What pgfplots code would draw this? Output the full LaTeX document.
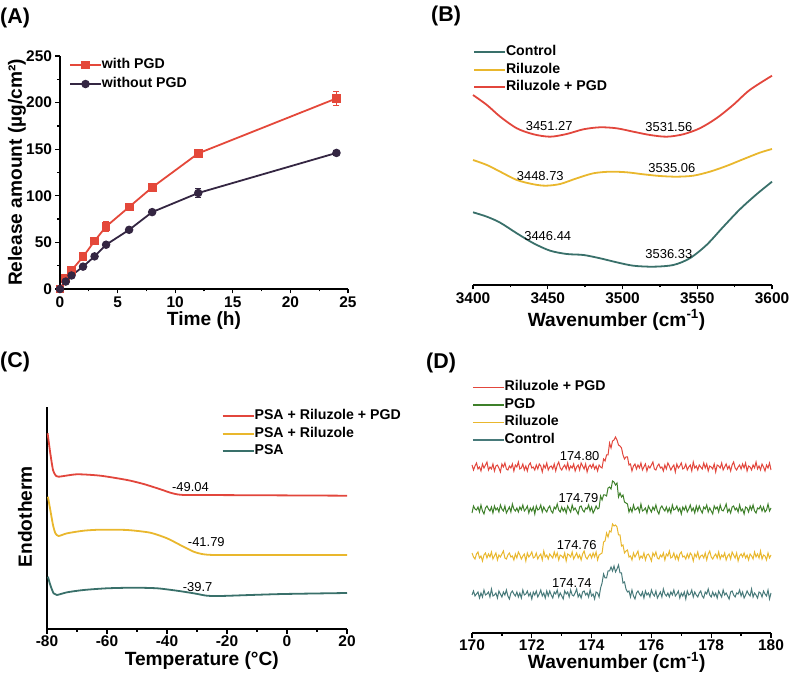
\documentclass[border=0pt]{standalone}
\usepackage{fontspec}
\setmainfont{Liberation Sans}
\usepackage{pgfplots}
\usepackage{pgfplotstable}
\pgfplotsset{compat=1.18}
\definecolor{redA}{RGB}{228,72,58}
\definecolor{darkA}{RGB}{52,38,66}
\definecolor{tealB}{RGB}{57,112,106}
\definecolor{yelB}{RGB}{233,183,45}
\definecolor{redB}{RGB}{226,70,60}
\definecolor{greenD}{RGB}{62,128,42}
\definecolor{tealD}{RGB}{72,122,122}

\pgfplotstableread{
x r g y c
170.00 210 162 122 80
170.05 205 169 118 84
170.10 209 166 116 79
170.15 212 165 121 81
170.20 206 168 123 83
170.25 208 163 117 77
170.30 204 170 119 82
170.35 211 164 114 78
170.40 207 161 120 85
170.45 210 167 122 80
170.50 213 169 117 81
170.55 205 166 121 83
170.60 208 164 118 78
170.65 206 168 123 86
170.70 211 162 116 79
170.75 204 169 119 80
170.80 209 165 122 82
170.85 210 167 115 77
170.90 207 163 120 84
170.95 203 170 118 81
171.00 211 166 121 78
171.05 208 164 124 83
171.10 212 169 117 80
171.15 206 162 116 85
171.20 205 165 120 79
171.25 209 168 122 76
171.30 207 163 118 82
171.35 211 171 119 84
171.40 204 166 115 81
171.45 210 164 121 79
171.50 208 167 117 83
171.55 213 163 123 78
171.60 206 168 120 82
171.65 207 165 116 77
171.70 211 170 119 85
171.75 205 164 121 80
171.80 209 166 114 81
171.85 204 169 122 84
171.90 210 162 118 79
171.95 212 167 120 82
172.00 207 164 123 76
172.05 208 168 117 83
172.10 205 161 118 80
172.15 210 169 122 84
172.20 206 165 116 78
172.25 211 166 119 81
172.30 209 170 121 85
172.35 203 163 115 79
172.40 210 168 124 82
172.45 207 165 118 77
172.50 212 163 120 84
172.55 205 167 116 79
172.60 208 169 121 84
172.65 209 164 119 80
172.70 206 162 117 77
172.75 211 168 123 83
172.80 204 166 118 81
172.85 210 171 122 85
172.90 213 165 115 78
172.95 207 163 120 82
173.00 205 168 119 79
173.05 208 164 117 76
173.10 210 167 122 84
173.15 206 162 114 81
173.20 212 169 121 83
173.25 205 166 120 78
173.30 209 163 118 85
173.35 207 170 123 80
173.40 211 165 116 79
173.45 204 167 119 82
173.50 208 164 122 86
173.55 210 161 117 78
173.60 205 168 120 81
173.65 212 169 115 77
173.70 209 165 121 83
173.75 206 163 124 84
173.80 211 167 118 80
173.85 203 166 116 82
173.90 208 170 119 78
173.95 210 164 121 85
174.00 207 168 117 79
174.05 211 162 122 81
174.10 206 165 118 76
174.15 209 169 123 83
174.20 204 166 115 82
174.25 210 167 120 78
174.30 208 179 121 87
174.35 207 175 122 92
174.40 216 180 133 101
174.45 214 180 134 97
174.50 220 179 142 97
174.55 220 187 138 104
174.60 232 188 144 104
174.65 227 186 143 108
174.70 234 194 151 104
174.75 235 193 149 109
174.80 238 190 150 103
174.85 235 192 148 106
174.90 230 178 140 110
174.95 229 182 140 102
175.00 227 178 129 102
175.05 220 180 130 92
175.10 216 173 122 93
175.15 218 172 124 86
175.20 218 171 125 83
175.25 210 163 118 84
175.30 211 167 119 78
175.35 204 163 115 85
175.40 209 170 122 79
175.45 211 165 118 76
175.50 206 166 121 82
175.55 210 168 124 84
175.60 207 163 116 81
175.65 212 171 119 79
175.70 205 164 117 83
175.75 208 165 122 77
175.80 211 167 115 84
175.85 204 162 120 80
175.90 209 169 121 82
175.95 207 166 118 78
176.00 210 163 114 85
176.05 213 168 122 81
176.10 206 165 119 79
176.15 205 170 123 84
176.20 209 164 117 77
176.25 211 161 116 80
176.30 207 167 120 83
176.35 208 169 118 78
176.40 204 166 122 86
176.45 210 164 115 81
176.50 206 168 121 79
176.55 212 163 119 82
176.60 209 167 124 78
176.65 205 162 117 83
176.70 208 170 118 80
176.75 210 165 122 85
176.80 203 166 116 79
176.85 211 169 120 81
176.90 207 164 115 84
176.95 209 167 121 77
177.00 212 161 123 82
177.05 206 168 118 79
177.10 207 165 119 83
177.15 211 169 116 76
177.20 205 163 121 84
177.25 208 166 117 80
177.30 210 170 122 81
177.35 204 164 120 85
177.40 213 167 114 78
177.45 207 162 121 83
177.50 209 169 118 80
177.55 205 164 123 78
177.60 210 169 116 82
177.65 208 165 119 84
177.70 206 162 120 79
177.75 212 168 117 77
177.80 207 166 122 83
177.85 211 170 115 81
177.90 204 163 121 86
177.95 209 167 124 80
178.00 208 164 118 78
178.05 206 161 116 83
178.10 211 169 119 79
178.15 203 166 121 82
178.20 210 168 117 77
178.25 209 163 123 84
178.30 207 170 116 81
178.35 212 165 120 78
178.40 205 164 118 85
178.45 208 167 122 80
178.50 211 171 115 82
178.55 206 163 119 79
178.60 209 166 121 76
178.65 204 162 116 83
178.70 210 168 123 84
178.75 213 169 120 80
178.80 207 165 117 78
178.85 205 167 122 82
178.90 208 163 114 81
178.95 210 170 119 85
179.00 206 164 121 79
179.05 211 166 118 83
179.10 207 161 122 77
179.15 212 168 117 80
179.20 204 167 120 84
179.25 209 163 115 81
179.30 208 169 121 79
179.35 205 165 119 86
179.40 210 170 116 78
179.45 207 164 123 82
179.50 213 162 118 80
179.55 206 167 121 77
179.60 209 166 117 83
179.65 205 169 124 82
179.70 211 164 116 78
179.75 208 168 120 84
179.80 204 163 119 81
179.85 210 165 115 79
179.90 207 171 122 85
179.95 212 164 117 76
180.00 205 167 120 82
}\dataD

\tikzset{ann/.style={font=\fontsize{13}{15}\selectfont, inner sep=0pt},
  plab/.style={anchor=west, font=\fontsize{21.5}{25}\selectfont\bfseries, inner sep=0pt}}
\pgfplotsset{
  panel/.style={
    scale only axis, clip=false,
    axis line style={line width=1.6bp,-},
    tick style={line width=1.3bp,black},
    tick align=outside,
    major tick length=4.5bp, minor tick length=2.5bp,
    tick label style={font=\fontsize{15.5}{18}\selectfont\bfseries},
    label style={font=\fontsize{19.2}{22}\selectfont\bfseries},
    /pgf/number format/assume math mode=true,
    /pgf/number format/1000 sep={},
    scaled ticks=false,
    legend cell align=left,
    legend style={draw=none, fill=none, inner sep=0pt, anchor=north west,
      font=\fontsize{14.2}{16}\selectfont\bfseries,
      nodes={inner sep=0pt, text height=10bp, text depth=3bp},
      row sep=4.5bp},
    /tikz/every even column/.append style={column sep=6bp},
    legend image code/.code={\draw[mark repeat=2,mark phase=2,##1] plot coordinates {(0bp,0bp) (15.5bp,0bp) (31bp,0bp)};},
  },
  thickleg/.style={legend image code/.code={\draw[##1, line width=1.4bp] (0bp,0bp) -- (31bp,0bp);}},
}

\begin{document}
\begin{tikzpicture}
\path[use as bounding box] (0,0) rectangle (789bp,675bp);

% ---------- (A)
\node[plab] at (0bp,657bp) {(A)};
\begin{axis}[panel,
  at={(60bp,386bp)}, anchor=south west, width=288bp, height=233bp,
  xmin=0, xmax=25, ymin=0, ymax=250,
  axis x line*=bottom, axis y line*=left,
  xtick={0,5,...,25}, ytick={0,50,...,250},
  minor x tick num=1, minor y tick num=1,
  xlabel={Time (h)}, ylabel={Release amount (µg/cm²)},
  xlabel style={at={(axis description cs:0.5,-0.135)}, anchor=center},
  ylabel style={at={(axis description cs:-0.149,0.5)}, anchor=center},
  legend style={at={(rel axis cs:0.031,0.99)}, row sep=6bp},
]
\addplot[redA, line width=1.8bp, mark=square*, mark size=3.5bp,
  error bars/.cd, y dir=both, y explicit,
  error bar style={line width=1.2bp},
  error mark options={rotate=90, mark size=3bp, line width=1.2bp}]
coordinates {(0,0) +- (0,0) (0.5,11) +- (0,1.5) (1,20) +- (0,2) (2,34.5) +- (0,2) (3,51.5) +- (0,4) (4,67) +- (0,5) (6,88) +- (0,3) (8,109) +- (0,2) (12,145.5) +- (0,3) (24,204.5) +- (0,7.5)};
\addlegendentry{with PGD}
\addplot[darkA, line width=1.8bp, mark=*, mark size=3.3bp,
  error bars/.cd, y dir=both, y explicit,
  error bar style={line width=1.2bp},
  error mark options={rotate=90, mark size=3bp, line width=1.2bp}]
coordinates {(0,0) +- (0,0) (0.5,8) +- (0,1) (1,14.5) +- (0,1) (2,24) +- (0,1.5) (3,35) +- (0,1) (4,47.5) +- (0,1.5) (6,63.5) +- (0,1.5) (8,82.5) +- (0,1.5) (12,103) +- (0,5) (24,146) +- (0,3)};
\addlegendentry{without PGD}
\end{axis}

% ---------- (B)
\node[plab] at (431bp,659bp) {(B)};
\begin{axis}[panel,
  at={(473bp,390bp)}, anchor=south west, width=299bp, height=252bp,
  xmin=3400, xmax=3600, ymin=390, ymax=642,
  axis x line*=bottom, axis y line=none, ytick=\empty,
  xtick={3400,3450,...,3600}, minor x tick num=1,
  xlabel={Wavenumber (cm\textsuperscript{-1})},
  xlabel style={at={(axis description cs:0.48,-0.139)}, anchor=center},
  legend style={at={(rel axis cs:0,0.95)}},
]
\addplot[tealB, line width=1.8bp, smooth] coordinates {
(3400,462.7) (3409.3,458.3) (3418.2,452.3) (3429.3,441.7) (3440.5,431.7) (3451.6,424.3) (3462.7,421) (3473.9,420) (3485,416.7) (3496.1,412.7) (3507.2,409.3) (3520.6,408.3) (3534,410) (3545,416.7) (3556.2,430) (3567.3,448) (3578.4,465.5) (3589.5,480.5) (3600,493.3)};
\addlegendentry{Control}
\addplot[yelB, line width=1.8bp, smooth] coordinates {
(3400,515) (3409.3,510) (3418.2,503.3) (3429.3,495) (3440.5,490.7) (3448.7,489.3) (3458.3,491) (3469.4,496.7) (3480.5,501.7) (3491.7,503.3) (3502.8,502.7) (3513.9,500.7) (3525,499) (3536.2,498.3) (3547.3,499.3) (3558.4,503.3) (3569.5,509) (3580.6,515.7) (3591.8,522.3) (3600,526)};
\addlegendentry{Riluzole}
\addplot[redB, line width=1.8bp, smooth] coordinates {
(3400,580) (3409.3,570) (3418.2,558.3) (3429.3,546.7) (3440.5,540.7) (3451.6,538.3) (3462.7,541) (3473.9,545.7) (3485,547.7) (3496.1,546.7) (3507.2,543.3) (3518.4,540) (3529.5,538.3) (3540.6,540.7) (3551.7,546.7) (3562.8,556.7) (3574,570) (3585.1,585) (3600,599.3)};
\addlegendentry{Riluzole + PGD}
\node[ann] at (axis cs:3451,549) {3451.27};
\node[ann] at (axis cs:3531,548.3) {3531.56};
\node[ann] at (axis cs:3445,499.3) {3448.73};
\node[ann] at (axis cs:3533,507.3) {3535.06};
\node[ann] at (axis cs:3450,439) {3446.44};
\node[ann] at (axis cs:3531,421) {3536.33};
\end{axis}

% ---------- (C)
\node[plab] at (0bp,313bp) {(C)};
\begin{axis}[panel,
  at={(47bp,46bp)}, anchor=south west, width=300bp, height=222bp,
  xmin=-80, xmax=20, ymin=46, ymax=268,
  axis x line*=bottom, axis y line*=left, ytick=\empty,
  xtick={-80,-60,...,20}, xticklabels={-80,-60,-40,-20,0,20}, minor x tick num=1,
  xticklabel style={yshift=1bp},
  xlabel={Temperature (°C)}, ylabel={Endotherm},
  xlabel style={at={(axis description cs:0.516,-0.141)}, anchor=center},
  ylabel style={at={(axis description cs:-0.073,0.506)}, anchor=center},
  legend style={at={(rel axis cs:0.582,0.989)}},
]
\addplot[redB, line width=1.8bp, smooth, tension=0.4] coordinates {
(-79.8,241.7) (-78.9,221.7) (-78,205) (-77.2,200) (-76.1,198.3) (-70,200.7) (-62.2,199.3) (-53.3,195) (-47.8,191) (-42.2,185.7) (-38.9,182.3) (-36.7,180.7) (-34.4,180) (-28.9,180) (0,179.6) (20,179.3)};
\addlegendentry{PSA + Riluzole + PGD}
\addplot[yelB, line width=1.8bp, smooth, tension=0.4] coordinates {
(-79.7,178.3) (-78.9,165) (-78,150) (-77.2,141.7) (-76.1,139) (-73.3,141.7) (-67.8,144.3) (-62.2,145.3) (-53.3,145) (-45.6,142.3) (-40,136.7) (-35.6,130) (-31.1,123.3) (-27.8,120.7) (-23.3,120) (0,120) (20,120)};
\addlegendentry{PSA + Riluzole}
\addplot[tealB, line width=1.8bp, smooth, tension=0.4] coordinates {
(-79.7,98.3) (-78.9,90) (-77.8,81.7) (-76.7,80) (-73.3,82.7) (-67.8,85) (-60,86.7) (-51.1,87.3) (-43.3,86.7) (-36.7,84.3) (-31.1,81.7) (-26.7,79.3) (-22.2,79) (-12.2,80) (-1.1,81) (20,82)};
\addlegendentry{PSA}
\node[ann] at (axis cs:-32.2,187.7) {-49.04};
\node[ann] at (axis cs:-26.9,133.3) {-41.79};
\node[ann] at (axis cs:-29.8,87.7) {-39.7};
\end{axis}

% ---------- (D)
\node[plab] at (426bp,311.7bp) {(D)};
\begin{axis}[panel, thickleg,
  at={(472bp,42bp)}, anchor=south west, width=299bp, height=258bp,
  xmin=170, xmax=180, ymin=42, ymax=300,
  axis x line*=bottom, axis y line=none, ytick=\empty,
  xtick={170,172,...,180}, minor x tick num=1,
  xticklabel style={yshift=1bp},
  xlabel={Wavenumber (cm\textsuperscript{-1})},
  xlabel style={at={(axis description cs:0.484,-0.113)}, anchor=center},
  legend style={at={(rel axis cs:0,0.978)}},
]
\addplot[redB, line width=1bp] table[x=x,y=r] {\dataD};
\addlegendentry{Riluzole + PGD}
\addplot[greenD, line width=1bp] table[x=x,y=g] {\dataD};
\addlegendentry{PGD}
\addplot[yelB, line width=1bp] table[x=x,y=y] {\dataD};
\addlegendentry{Riluzole}
\addplot[tealD, line width=1bp] table[x=x,y=c] {\dataD};
\addlegendentry{Control}
\node[ann] at (axis cs:173.6,219) {174.80};
\node[ann] at (axis cs:173.56,176.7) {174.79};
\node[ann] at (axis cs:173.5,130) {174.76};
\node[ann] at (axis cs:173.34,91.7) {174.74};
\end{axis}
\end{tikzpicture}
\end{document}
